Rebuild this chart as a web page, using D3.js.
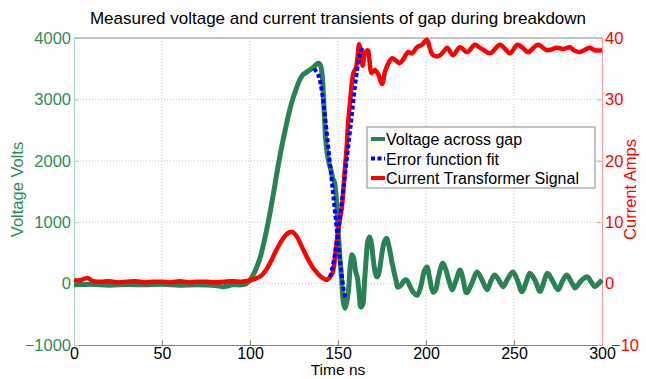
<!DOCTYPE html>
<html>
<head>
<meta charset="utf-8">
<script src="https://cdn.jsdelivr.net/npm/d3@7"></script>
<style>
  body { margin: 0; background: #fff; }
  text { font-family: "Liberation Sans", Arial, sans-serif; }
</style>
</head>
<body>
<div id="chart"></div>
<script>
// voltage across gap (V) vs time (ns)
const voltageNs = [0,10,20,30,40,50,60,70,80,85,90,95,98,100,102,104,106,108,110,112,114,116,118,120,122,124,126,128,130,132,134,136,138,139,140,141,142,143,144,145,146,147,148,149,150,151,152,153,154,155,156,157,158,159,160,161,162,163,164,165,166,167,168,169,170,171,172,173,174,176,177.5,179,181,183,184,186,188,189,191,193,195,197,199,200.5,202,204,205.5,207,209.5,211,213,215,217,219.3,221,223,226,229,232,234.7,237,239,241.5,243.8,246.5,249.4,252,254.5,257,259,262,264.8,267,269,272,275,277.5,280,282.5,284.7,288,291.5,294,296,298,300];
const voltageV = [-20,-10,-25,-15,-20,-10,-25,-20,-30,-50,-20,-20,0,60,150,280,450,680,950,1250,1580,1920,2230,2500,2760,2980,3150,3300,3400,3440,3480,3520,3580,3590,3560,3400,2900,2350,2100,1950,1850,1720,1650,1400,900,450,100,-300,-400,-300,-100,300,470,400,200,100,-150,-380,-350,0,400,700,760,650,400,200,110,150,300,650,740,600,300,50,-60,-20,60,60,-50,-150,-190,-50,200,270,100,-140,-100,100,330,250,50,-100,50,220,80,-150,0,190,50,-100,50,140,50,-50,80,190,50,-130,30,170,50,-130,30,170,40,-100,40,140,30,-70,40,110,20,-50,0,60];

// current transformer signal (A)
const currentNs = [0,3,6,8,10,15,20,25,30,35,40,45,50,55,60,65,70,75,80,85,90,95,100,103,106,108,110,112,114,116,118,120,122,124,126,128,130,132,134,136,138,140,142,143.7,145,147,148,149.4,150.5,152,153,154,155,155.7,157,158,159,160,161,162,163,164,165.3,167,168,169,171,173,175,176.7,178,180.7,183,185,187,189.8,192,194.9,197.7,200.6,202,204,206,208,210,212,215.3,219.3,223.3,227.8,230.7,233,236.4,242,245,247.7,252,255,258,263.6,268.7,274.4,278,281.8,284,287.5,293,296,300];
const currentA = [0.6,0.5,0.8,0.9,0.5,0.3,0.4,0.2,0.3,0.4,0.2,0.3,0.3,0.2,0.4,0.2,0.3,0.3,0.2,0.3,0.4,0.3,0.5,0.8,1.2,1.8,2.6,3.7,4.9,6.0,7.0,7.8,8.3,8.4,7.9,6.9,5.7,4.5,3.4,2.5,1.8,1.2,0.8,0.6,0.9,1.8,3.5,7,9.5,12,15,19,22.5,26,30,33,34.5,35,36.5,39,38,35.5,37.5,38,36,34.3,34.8,34,32.5,34.5,35.5,36.7,36.3,35.9,36.5,37.7,37.5,38.5,38.9,39.7,38.5,37.2,37,37.2,37.8,38.4,37.2,38.5,37.7,38.9,38.4,38,37.5,38.9,38.2,37.5,38.9,38.4,37.7,38.9,38,38.4,38.2,38.5,38,37.7,38.4,38,38];

// error function fits
const fitVoltageNs = [136.5,137,138,139,140,141,142,143,144,145,146,147,148,149,150,151,152,153,154,155];
const fitVoltageV = [3500,3480,3440,3380,3270,3100,2880,2620,2350,2070,1800,1530,1250,960,700,430,160,-60,-200,-260];
const fitCurrentNs = [145.5,146,147,148,149,150,151,152,153,154,155,156,157,158,159,160,161,162,163,164];
const fitCurrentA = [1.1,1.5,2.8,4.4,6.2,8.2,10.5,12.9,15.3,17.8,20.3,22.8,25.3,27.8,30.5,33,35,36.6,37.8,38.4];

const xTicks = [0,50,100,150,200,250,300];
const voltTicks = [-1000,0,1000,2000,3000,4000];
const ampTicks = [-10,0,10,20,30,40];

const green = "#2e8b57", lineGreen = "#2b8055", red = "#ff0000", blue = "#0000ff";
const W = 646, H = 379;
const m = {left: 74, right: 44, top: 38, bottom: 34};
const w = W - m.left - m.right, h = H - m.top - m.bottom;

const svg = d3.select("#chart").append("svg").attr("width", W).attr("height", H);
const g = svg.append("g").attr("transform", `translate(${m.left},${m.top})`);

const x = d3.scaleLinear().domain([0, 300]).range([0, w]);
const yV = d3.scaleLinear().domain([-1000, 4000]).range([h, 0]);
const yA = d3.scaleLinear().domain([-10, 40]).range([h, 0]);
const fmt = d3.format("d");

// grid
g.append("g").selectAll("line").data(xTicks.slice(1, -1)).enter().append("line")
  .attr("x1", d => x(d)).attr("x2", d => x(d)).attr("y1", 0).attr("y2", h)
  .attr("stroke", "#cccccc").attr("stroke-dasharray", "1,2");
g.append("g").selectAll("line").data(voltTicks.slice(1, -1)).enter().append("line")
  .attr("x1", 0).attr("x2", w).attr("y1", d => yV(d)).attr("y2", d => yV(d))
  .attr("stroke", "#cccccc").attr("stroke-dasharray", "1,2");

// frame top
g.append("line").attr("x1", 0).attr("x2", w).attr("y1", 0).attr("y2", 0).attr("stroke", "#888");

const xAxis = g.append("g").attr("transform", `translate(0,${h})`)
  .call(d3.axisBottom(x).tickValues(xTicks).tickFormat(fmt).tickSize(-5).tickPadding(3));
xAxis.select(".domain").attr("stroke", "#888");
xAxis.selectAll(".tick line").attr("stroke", "#888");
xAxis.selectAll("text").attr("font-size", 16).attr("fill", "#000");

const leftAxis = g.append("g")
  .call(d3.axisLeft(yV).tickValues(voltTicks).tickFormat(fmt).tickSize(-5).tickPadding(3));
leftAxis.select(".domain").attr("stroke", "#a8d4bd");
leftAxis.selectAll(".tick line").attr("stroke", "#a8d4bd");
leftAxis.selectAll("text").attr("font-size", 16.5).attr("fill", green);

const rightAxis = g.append("g").attr("transform", `translate(${w},0)`)
  .call(d3.axisRight(yA).tickValues(ampTicks).tickFormat(fmt).tickSize(-5).tickPadding(3));
rightAxis.select(".domain").attr("stroke", "#ff9999");
rightAxis.selectAll(".tick line").attr("stroke", "#ff9999");
rightAxis.selectAll("text").attr("font-size", 16.5).attr("fill", red);
// nudge the bottom right label so it clears "300"
rightAxis.selectAll(".tick").filter(d => d === -10).select("text").attr("dx", 6);

// lines
const lineV = d3.line().x(d => x(d[0])).y(d => yV(d[1])).curve(d3.curveCatmullRom);
const lineA = d3.line().x(d => x(d[0])).y(d => yA(d[1])).curve(d3.curveCatmullRom);

g.append("path").datum(d3.zip(voltageNs, voltageV)).attr("d", lineV)
  .attr("fill", "none").attr("stroke", lineGreen).attr("stroke-width", 5).attr("stroke-linejoin", "round");
g.append("path").datum(d3.zip(currentNs, currentA)).attr("d", lineA)
  .attr("fill", "none").attr("stroke", red).attr("stroke-width", 4.5).attr("stroke-linejoin", "round");
g.append("path").datum(d3.zip(fitVoltageNs, fitVoltageV)).attr("d", lineV)
  .attr("fill", "none").attr("stroke", blue).attr("stroke-width", 4).attr("stroke-dasharray", "4,2.5");
g.append("path").datum(d3.zip(fitCurrentNs, fitCurrentA)).attr("d", lineA)
  .attr("fill", "none").attr("stroke", blue).attr("stroke-width", 4).attr("stroke-dasharray", "4,2.5");

// title and labels
svg.append("text").attr("x", m.left + w / 2).attr("y", 24).attr("text-anchor", "middle")
  .attr("font-size", 17).text("Measured voltage and current transients of gap during breakdown");
svg.append("text").attr("x", m.left + w / 2).attr("y", 375).attr("text-anchor", "middle")
  .attr("font-size", 15.5).text("Time ns");
svg.append("text").attr("transform", `translate(23,${m.top + h / 2 - 2}) rotate(-90)`)
  .attr("text-anchor", "middle").attr("font-size", 16.5).attr("fill", green).text("Voltage Volts");
svg.append("text").attr("transform", `translate(636,${m.top + h / 2 - 2}) rotate(-90)`)
  .attr("text-anchor", "middle").attr("font-size", 16.5).attr("fill", red).text("Current Amps");

// legend
const legend = [["Voltage across gap", lineGreen, null], ["Error function fit", blue, "4,2.5"], ["Current Transformer Signal", red, null]];
const lg = svg.append("g").attr("transform", "translate(367,127)");
lg.append("rect").attr("width", 228).attr("height", 61).attr("fill", "#fff").attr("stroke", "#888");
legend.forEach((d, i) => {
  const yy = 12 + i * 19.5;
  lg.append("line").attr("x1", 4).attr("x2", 18).attr("y1", yy).attr("y2", yy)
    .attr("stroke", d[1]).attr("stroke-width", 4).attr("stroke-dasharray", d[2]);
  lg.append("text").attr("x", 19).attr("y", yy + 6).attr("font-size", 16).text(d[0]);
});
</script>
</body>
</html>
